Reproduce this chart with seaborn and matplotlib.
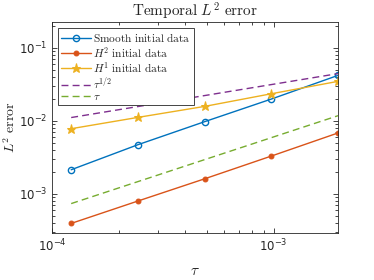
import numpy as np
import pandas as pd
import seaborn as sns
import matplotlib.pyplot as plt
from matplotlib.font_manager import FontProperties
from matplotlib.ticker import LogLocator, LogFormatterSciNotation

# step sizes tau = 2^-13 ... 2^-9
tau = [1 / 8192, 1 / 4096, 1 / 2048, 1 / 1024, 1 / 512]
err_smooth = [2.13e-3, 4.69e-3, 9.7e-3, 1.98e-2, 4.18e-2]
err_h2 = [3.92e-4, 7.94e-4, 1.6e-3, 3.28e-3, 6.8e-3]
err_h1 = [7.77e-3, 1.11e-2, 1.57e-2, 2.34e-2, 3.46e-2]
ref_half = [t ** 0.5 for t in tau]
ref_one = [6 * t for t in tau]

labels = [r'$\mathrm{Smooth\ initial\ data}$',
          r'$H^2\ \mathrm{initial\ data}$',
          r'$H^1\ \mathrm{initial\ data}$',
          r'$\tau^{1/2}$',
          r'$\tau$']
colors = ['#0072BD', '#D95319', '#EDB120', '#7E2F8E', '#77AC30']


def plot_error():
    sns.set_style('ticks')
    plt.rcParams['font.family'] = ['DejaVu Sans']
    plt.rcParams['axes.edgecolor'] = '#262626'

    fig = plt.figure(figsize=(3.74, 2.80), dpi=100)
    ax = fig.add_axes([0.139, 0.168, 0.765, 0.753])

    sns.lineplot(x=tau, y=err_smooth, ax=ax, color=colors[0], lw=1.0, marker='o',
                 markersize=4.5, markerfacecolor='none', markeredgecolor=colors[0],
                 markeredgewidth=1.0, label=labels[0])
    sns.lineplot(x=tau, y=err_h2, ax=ax, color=colors[1], lw=1.0, marker='o',
                 markersize=3.5, markeredgecolor=colors[1], label=labels[1])
    sns.lineplot(x=tau, y=err_h1, ax=ax, color=colors[2], lw=1.0, marker='*',
                 markersize=6.5, markeredgecolor=colors[2], label=labels[2])
    sns.lineplot(x=tau, y=ref_half, ax=ax, color=colors[3], lw=1.0, label=labels[3])
    sns.lineplot(x=tau, y=ref_one, ax=ax, color=colors[4], lw=1.0, label=labels[4])
    for ln in ax.lines[3:]:
        ln.set_linestyle((0, (5, 3)))

    ax.set_xscale('log')
    ax.set_yscale('log')
    ax.set_xlim(1e-4, 1 / 512)
    ax.set_ylim(2.9e-4, 0.224)

    ax.xaxis.set_major_locator(LogLocator(base=10))
    ax.yaxis.set_major_locator(LogLocator(base=10))
    ax.xaxis.set_minor_locator(LogLocator(base=10, subs=np.arange(2, 10)))
    ax.yaxis.set_minor_locator(LogLocator(base=10, subs=np.arange(2, 10)))
    ax.xaxis.set_major_formatter(LogFormatterSciNotation())
    ax.yaxis.set_major_formatter(LogFormatterSciNotation())
    ax.tick_params(which='both', direction='in', top=True, right=True,
                   colors='#262626', labelsize=8.5, width=0.6)
    ax.tick_params(which='major', length=3.5)
    ax.tick_params(which='minor', length=2)
    for sp in ax.spines.values():
        sp.set_linewidth(0.6)

    ax.set_title(r'$\mathrm{Temporal}\ L^2\ \mathrm{error}$', fontsize=11,
                 math_fontfamily='cm', pad=4)
    ax.set_xlabel(r'$\tau$', fontsize=11, math_fontfamily='cm', labelpad=6)
    ax.set_ylabel(r'$L^2\ \mathrm{error}$', fontsize=10, math_fontfamily='cm')
    ax.yaxis.set_label_coords(-0.118, 0.5)

    leg = ax.legend(loc='upper left', prop=FontProperties(size=8.2, math_fontfamily='cm'),
                    handlelength=2.6, handletextpad=0.2, labelspacing=0.05,
                    borderpad=0.3, borderaxespad=0.5, fancybox=False, framealpha=1)
    leg.get_frame().set_edgecolor('#262626')
    leg.get_frame().set_linewidth(0.6)

    fig.savefig('out.png', dpi=100)


if __name__ == "__main__":
    plot_error()
